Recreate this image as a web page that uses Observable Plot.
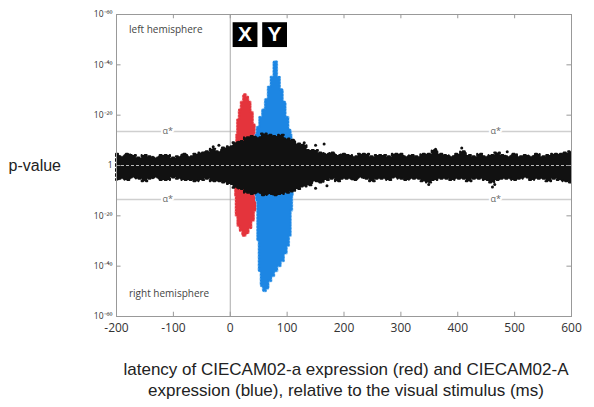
<!DOCTYPE html>
<html>
<head>
<meta charset="utf-8">
<script src="https://cdn.jsdelivr.net/npm/d3@7"></script>
<script src="https://cdn.jsdelivr.net/npm/@observablehq/plot@0.6"></script>
<style>
  html, body { margin: 0; padding: 0; background: #fff; }
  #chart { width: 594px; height: 345px; }
  #caption { font-family: "Liberation Sans", Arial, sans-serif; font-size: 17px; line-height: 21px; color: #222; text-align: center; width: 594px; padding-left: 98px; box-sizing: border-box; margin-top: 14px; white-space: nowrap; }
</style>
</head>
<body>
<div id="chart"></div>
<div id="caption">latency of CIECAM02-a expression (red) and CIECAM02-A<br>expression (blue), relative to the visual stimulus (ms)</div>
<script>
// ---- data (y = signed orders of magnitude: + left hemisphere, - right hemisphere)
const xTicks = [-200, -100, 0, 100, 200, 300, 400, 500, 600];
const yTicks = [60, 40, 20, 0, -20, -40, -60];
const yTickLabels = ["10⁻⁶⁰", "10⁻⁴⁰", "10⁻²⁰", "1", "10⁻²⁰", "10⁻⁴⁰", "10⁻⁶⁰"];

// black band envelope
const blackX = [-200,-190,-180,-170,-160,-150,-140,-130,-120,-110,-100,-90,-80,-70,-60,-50,-40,-30,-20,-10,0,10,20,30,40,50,60,70,80,90,100,110,120,130,140,150,160,170,180,190,200,210,220,230,240,250,260,270,280,290,300,310,320,330,340,350,360,370,380,390,400,410,420,430,440,450,460,470,480,490,500,510,520,530,540,550,560,570,580,590,600];
const blackHigh = [4.5,3.5,4.5,4,3,4,3.5,3,4,4,3,3.5,4.5,3.5,4.5,5,5.5,6.5,5.5,7,7.5,9,9.5,11,11.5,11,12.5,12,11.5,12,10.5,10,8.5,8,6,6,5,4.5,5,4,4.5,4,3.5,4.5,4.5,3.5,4,4,3.5,4.5,4.5,3.5,4,3.5,4.5,4.5,6,4.5,4,3.5,4.5,5.5,4,3.5,4.5,3.5,4,5,4,3.5,4.5,3.5,4,3.5,4.5,3.5,4,4.5,4.5,5,5.5];
const blackLow = [-6,-5.5,-6,-5,-5.5,-6.5,-5.5,-5,-6,-6,-5,-5.5,-6,-6,-6.5,-6,-5.5,-6.5,-6.5,-7,-7.5,-9,-9.5,-11,-11.5,-11,-12,-11.5,-12,-11.5,-11,-10.5,-9.5,-8.5,-8,-6.5,-7,-6,-5.5,-6.5,-5.5,-5.5,-6,-5,-5.5,-6.5,-5.5,-5.5,-6,-5,-5.5,-6,-5.5,-5.5,-6.5,-7,-6,-5.5,-5.5,-6,-5.5,-5.5,-6.5,-5.5,-5.5,-6,-7,-6,-5.5,-5.5,-6,-5.5,-5,-6,-5.5,-5.5,-6.5,-5.5,-6,-6.5,-7];

// scattered outliers beyond the band
const outX = [-30, -20, 130, 150, 165, 361, 407, 487, 349, 461, 465, 150, 170];
const outY = [7.5, 8, 9, 8, 8.5, 6.5, 7, 5.5, -7.5, -8.5, -7.5, -9, -8];

// red (CIECAM02-a) clusters
const redUpX = [12, 15, 18, 22, 26, 30, 34, 38, 42, 45];
const redUpY = [12, 18, 22, 25, 28, 27, 25, 21, 16, 12];
const redLowX = [10, 12, 16, 20, 25, 30, 35, 40, 44, 47];
const redLowY = [-12, -20, -24, -26, -28, -27, -25, -22, -18, -13];

// blue (CIECAM02-A) clusters
const blueUpX = [46, 50, 55, 60, 65, 70, 75, 80, 85, 90, 95, 100, 105, 108];
const blueUpY = [12, 15, 19, 22, 26, 31, 35, 41, 35, 30, 25, 19, 14, 12];
const blueLowX = [46, 48, 50, 53, 57, 61, 65, 70, 75, 80, 86, 92, 97, 102, 105, 108, 110];
const blueLowY = [-12, -14, -30, -42, -48, -50, -49, -46, -44, -42, -40, -38, -35, -32, -28, -18, -12];

const alphaStar = [13.5, -13.5];
const alphaLabelX = [-110, 467];
const boxLetters = ["X", "Y"];
const boxX = [26, 78];
const boxY = 52;

const hemiLabels = ["left hemisphere", "right hemisphere"];
const hemiX = [-178, -178];
const hemiY = [54, -51];

// ---- build tables
const black = blackX.map((x, i) => ({x, lo: blackLow[i], hi: blackHigh[i]}));
const outliers = outX.map((x, i) => ({x, y: outY[i]}));
const redUp = redUpX.map((x, i) => ({x, y: redUpY[i]}));
const redLow = redLowX.map((x, i) => ({x, y: redLowY[i]}));
const blueUp = blueUpX.map((x, i) => ({x, y: blueUpY[i]}));
const blueLow = blueLowX.map((x, i) => ({x, y: blueLowY[i]}));
const alphaLabels = alphaStar.flatMap(y => alphaLabelX.map(x => ({x, y})));
const boxes = boxLetters.map((t, i) => ({t, x: boxX[i], y: boxY}));
const hemis = hemiLabels.map((t, i) => ({t, x: hemiX[i], y: hemiY[i]}));

const RED = "#e4343c", RED_HALO = "#f39a9e", BLUE = "#1d86e3", BLUE_HALO = "#8cc4f2";
const GRID = "#999";

function cluster(data, base, fill, halo) {
  return [
    Plot.areaY(data, {x: "x", y1: base, y2: "y", fill: "none", stroke: halo, strokeWidth: 3, strokeDasharray: "2,2", curve: "step"}),
    Plot.areaY(data, {x: "x", y1: base, y2: "y", fill, curve: "step"}),
    Plot.areaY(data, {x: "x", y1: base, y2: "y", fill: "none", stroke: fill, strokeWidth: 2, strokeDasharray: "1,2", curve: "step"})
  ];
}

const chart = Plot.plot({
  width: 594,
  height: 345,
  marginTop: 14,
  marginBottom: 29,
  marginLeft: 116,
  marginRight: 23,
  style: {fontFamily: "'Open Sans', sans-serif", color: "#333", background: "#fff"},
  x: {domain: [-200, 600]},
  y: {domain: [-60, 60]},
  marks: [
    Plot.ruleY(alphaStar, {stroke: "#cfcfcf", strokeWidth: 1.5}),
    Plot.ruleX([0], {stroke: "#aaa"}),
    ...cluster(redUp, 8, RED, RED_HALO),
    ...cluster(redLow, -8, RED, RED_HALO),
    ...cluster(blueUp, 8, BLUE, BLUE_HALO),
    ...cluster(blueLow, -8, BLUE, BLUE_HALO),
    Plot.areaY(black, {x: "x", y1: "lo", y2: "hi", fill: "#111", curve: "step"}),
    Plot.areaY(black, {x: "x", y1: "lo", y2: "hi", fill: "none", stroke: "#111", strokeWidth: 2, strokeDasharray: "2,3", curve: "step"}),
    Plot.dot(outliers, {x: "x", y: "y", r: 1.5, fill: "#111"}),
    Plot.ruleY([0], {stroke: "#bbb", strokeDasharray: "3,2", strokeWidth: 1}),
    Plot.text(alphaLabels, {x: "x", y: "y", text: () => "α*", fontSize: 9, fill: "#666", stroke: "#fff", strokeWidth: 4}),
    Plot.dot(boxes, {x: "x", y: "y", symbol: "square", r: 14, fill: "#000"}),
    Plot.text(boxes, {x: "x", y: "y", text: "t", fill: "#fff", fontSize: 21, fontWeight: "bold", fontFamily: "'Liberation Sans', Arial, sans-serif"}),
    Plot.text(hemis, {x: "x", y: "y", text: "t", textAnchor: "start", fontSize: 10, fill: "#444"}),
    Plot.frame({stroke: GRID}),
    // inward ticks
    Plot.ruleX(xTicks, {x: d => d, y1: -60, y2: -58.3, stroke: GRID}),
    Plot.ruleX(xTicks, {x: d => d, y1: 60, y2: 58.3, stroke: GRID}),
    Plot.ruleY(yTicks, {y: d => d, x1: -200, x2: -192, stroke: GRID}),
    Plot.ruleY(yTicks, {y: d => d, x1: 600, x2: 592, stroke: GRID}),
    Plot.axisX({ticks: xTicks, tickSize: 0, tickPadding: 7, fontSize: 12, label: null, tickFormat: d => String(d)}),
    Plot.axisY({ticks: yTicks, tickSize: 0, tickPadding: 4, fontSize: 8.5, label: null,
      tickFormat: d => yTickLabels[yTicks.indexOf(d)]}),
    Plot.text(["p-value"], {x: -200, y: 0, dx: -108, text: d => d, textAnchor: "start", fontSize: 16, fill: "#222", fontFamily: "'Liberation Sans', Arial, sans-serif"})
  ]
});
document.getElementById("chart").append(chart);
</script>
</body>
</html>
